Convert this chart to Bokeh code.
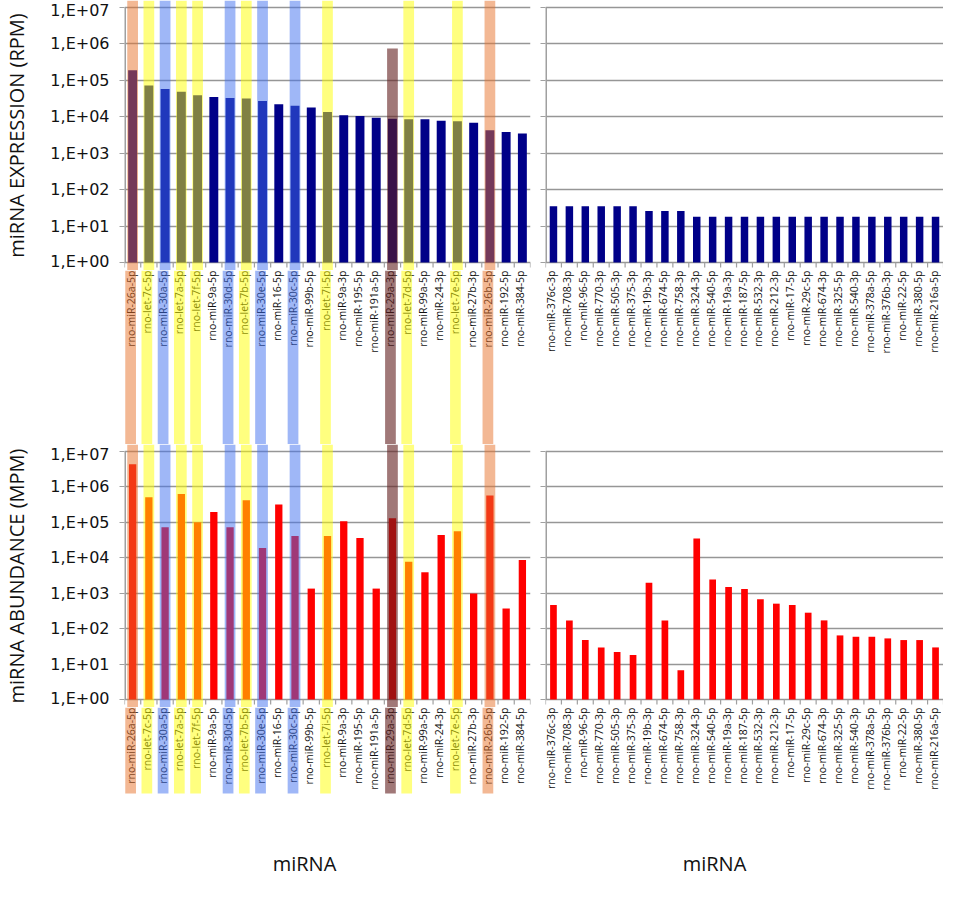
import math
from bokeh.plotting import figure
from bokeh.models import Range1d, FixedTicker
from bokeh.layouts import column, row
from bokeh.core.properties import value
from bokeh.embed import file_html
from bokeh.resources import INLINE

# ---------------- data ----------------
left_mirnas = ["rno-miR-26a-5p", "rno-let-7c-5p", "rno-miR-30a-5p", "rno-let-7a-5p",
               "rno-let-7f-5p", "rno-miR-9a-5p", "rno-miR-30d-5p", "rno-let-7b-5p",
               "rno-miR-30e-5p", "rno-miR-16-5p", "rno-miR-30c-5p", "rno-miR-99b-5p",
               "rno-let-7i-5p", "rno-miR-9a-3p", "rno-miR-195-5p", "rno-miR-191a-5p",
               "rno-miR-29a-3p", "rno-let-7d-5p", "rno-miR-99a-5p", "rno-miR-24-3p",
               "rno-let-7e-5p", "rno-miR-27b-3p", "rno-miR-26b-5p", "rno-miR-192-5p",
               "rno-miR-384-5p"]
left_rpm = [1.9e5, 7.2e4, 5.8e4, 4.9e4, 3.9e4, 3.5e4, 3.3e4, 3.2e4, 2.7e4, 2.2e4,
            2.0e4, 1.8e4, 1.35e4, 1.1e4, 1.05e4, 9.4e3, 8.8e3, 8.6e3, 8.6e3, 7.8e3,
            7.6e3, 6.9e3, 4.3e3, 3.8e3, 3.5e3]
left_mpm = [4.4e6, 5.1e5, 7.3e4, 6.3e5, 1.0e5, 1.95e5, 7.3e4, 4.2e5, 1.9e4, 3.2e5,
            4.1e4, 1.35e3, 4.1e4, 1.07e5, 3.6e4, 1.35e3, 1.3e5, 7.7e3, 3.9e3, 4.4e4,
            5.6e4, 9.8e2, 5.7e5, 3.7e2, 8.7e3]
# highlight family of each left-hand miRNA (None = not highlighted)
left_family = ["orange", "yellow", "blue", "yellow", "yellow", None, "blue", "yellow",
               "blue", None, "blue", None, "yellow", None, None, None, "brown", "yellow",
               None, None, "yellow", None, "orange", None, None]
band_top_rpm = {16: 7.5e5}

right_mirnas = ["rno-miR-376c-3p", "rno-miR-708-3p", "rno-miR-96-5p", "rno-miR-770-3p",
                "rno-miR-505-3p", "rno-miR-375-3p", "rno-miR-19b-3p", "rno-miR-674-5p",
                "rno-miR-758-3p", "rno-miR-324-3p", "rno-miR-540-5p", "rno-miR-19a-3p",
                "rno-miR-187-5p", "rno-miR-532-3p", "rno-miR-212-3p", "rno-miR-17-5p",
                "rno-miR-29c-5p", "rno-miR-674-3p", "rno-miR-325-5p", "rno-miR-540-3p",
                "rno-miR-378a-5p", "rno-miR-376b-3p", "rno-miR-22-5p", "rno-miR-380-5p",
                "rno-miR-216a-5p"]
right_rpm = [35, 35, 35, 35, 35, 35, 26, 26, 26, 18, 18, 18, 18, 18, 18, 18, 18, 18,
             18, 18, 18, 18, 18, 18, 18]
right_mpm = [465, 171, 47.6, 29.5, 21.8, 17.9, 1990, 171, 6.7, 34900, 2420, 1500, 1318,
             673, 507, 465, 282, 171, 64.4, 59, 59, 53, 47.6, 47.6, 29.5]

y_ticks = [1, 10, 100, 1000, 10000, 100000, 1000000, 10000000]
y_tick_labels = ["1,E+00", "1,E+01", "1,E+02", "1,E+03", "1,E+04", "1,E+05", "1,E+06", "1,E+07"]
x_title = "miRNA"

# ---------------- styles / geometry ----------------
FONT = "Open Sans"
BAND_STYLE = {
    "orange": ("#E8722A", 0.5),
    "yellow": ("#FFFF00", 0.5),
    "blue": ("#4070F0", 0.5),
    "brown": ("#611E1E", 0.6),
}
NAVY = "#000088"
RED = "#FF0000"
GRID = "#969696"
AXIS = "#a0a0a0"

FW_L, FW_R = 406, 398
ML_L, MR_L, ML_R, MR_R = 122, 5, 10, 0
DEC_TOP = 255 / 7.0      # px per decade, upper panels
DEC_BOT = 248 / 7.0      # px per decade, lower panels
HEAD = 7                 # px of frame above the 1E+07 line
FOOT = 8                 # px of frame under the 1E+00 line
STRIP_TOP = 174          # label strip under the upper panels
STRIP_BOT = 177          # label strip (and title) under the lower panels
BAND_BOT_PX = 86         # lower bands stop this far into their label strip
TITLE_PX = 156           # x title centre, px into the lower label strip


def style_frame(p):
    p.outline_line_color = None
    p.background_fill_color = "white"
    p.border_fill_color = "white"
    p.xgrid.visible = False


def bands(p, families, tops, bottom):
    l, r, t, b, cols, alphas = [], [], [], [], [], []
    for i, fam in enumerate(families):
        if fam is None:
            continue
        c, a = BAND_STYLE[fam]
        l.append(i - 0.33)
        r.append(i + 0.33)
        t.append(tops.get(i, None) if isinstance(tops, dict) else tops)
        b.append(bottom)
        cols.append(c)
        alphas.append(a)
    p.quad(left=l, right=r, top=t, bottom=b, fill_color=cols, fill_alpha=alphas,
           line_color=None)


def bars_fig(names, values, color, bar_w, fw, dec, ml, mr, families=None,
             band_tops=None, ytitle=None, ylabels=True):
    n = len(names)
    y0 = 10 ** (-FOOT / dec)
    y1 = 10 ** (7 + HEAD / dec)
    p = figure(frame_width=fw, frame_height=int(round(HEAD + 7 * dec + FOOT)),
               min_border_left=ml, min_border_right=mr,
               min_border_top=0, min_border_bottom=0,
               x_range=Range1d(-0.5, n - 0.5), y_range=Range1d(y0, y1),
               y_axis_type="log", output_backend="svg", toolbar_location=None,
               tools="")
    style_frame(p)
    xs = list(range(n))
    p.vbar(x=xs, top=values, bottom=1, width=bar_w, fill_color=color, line_color=None)

    # category tick marks between bars, under the 1E+00 line
    bounds = [i - 0.5 for i in range(n + 1)]
    tick_end = 10 ** (-5 / dec)
    p.segment(x0=bounds, x1=bounds, y0=[1] * len(bounds), y1=[tick_end] * len(bounds),
              line_color=AXIS, line_width=1.2)

    if families:
        tops = {i: y1 for i in range(n)}
        tops.update(band_tops or {})
        bands(p, families, tops, y0)

    # y axis line from 1E+00 to 1E+07
    p.segment(x0=[-0.5], x1=[-0.5], y0=[1], y1=[1e7], line_color=AXIS, line_width=3)

    p.xaxis.visible = False
    ya = p.yaxis[0]
    ya.ticker = FixedTicker(ticks=y_ticks)
    ya.axis_line_color = None
    ya.minor_tick_line_color = None
    ya.major_tick_in = 0
    ya.major_tick_out = 5
    ya.major_tick_line_color = AXIS
    if ylabels:
        ya.major_label_overrides = dict(zip(y_ticks, y_tick_labels))
        ya.major_label_text_font = "DejaVu Sans"
        ya.major_label_text_font_size = "16px"
        ya.major_label_text_color = "#111111"
        ya.major_label_standoff = 10
    else:
        ya.major_label_overrides = {t: "" for t in y_ticks}
        ya.major_label_text_font_size = "1px"
        ya.major_label_text_alpha = 0
        ya.major_label_standoff = 0
    if ytitle:
        ya.axis_label = ytitle
        ya.axis_label_text_font = FONT
        ya.axis_label_text_font_size = "20px"
        ya.axis_label_text_font_style = "normal"
        ya.axis_label_text_color = "#111111"
        ya.axis_label_standoff = 17
    p.ygrid.grid_line_color = GRID
    p.ygrid.grid_line_width = 1.5
    return p


def strip_fig(names, fw, sh, ml, mr, families=None, band_bottom=None,
              xtitle=None, xtitle_shift=0):
    n = len(names)
    p = figure(frame_width=fw, frame_height=sh,
               min_border_left=ml, min_border_right=mr,
               min_border_top=0, min_border_bottom=0,
               x_range=Range1d(-0.5, n - 0.5), y_range=Range1d(-sh, 0),
               output_backend="svg", toolbar_location=None, tools="")
    style_frame(p)
    p.ygrid.visible = False
    p.xaxis.visible = False
    p.yaxis.visible = False
    xs = list(range(n))
    p.text(x=xs, y=[0] * n, text=names, angle=math.pi / 2,
           text_align="right", text_baseline="middle",
           text_font=value(FONT), text_font_size="10.5px", text_color="#111111")
    if families:
        bands(p, families, 0, -(band_bottom if band_bottom is not None else sh))
    if xtitle:
        p.text(x=[(n - 1) / 2.0], y=[-TITLE_PX], text=[xtitle],
               x_offset=xtitle_shift, text_align="center", text_baseline="middle",
               text_font=value(FONT), text_font_size="20px", text_color="#111111")
    return p


tl = bars_fig(left_mirnas, left_rpm, NAVY, 0.55, FW_L, DEC_TOP, ML_L, MR_L,
              families=left_family, band_tops=band_top_rpm,
              ytitle="miRNA EXPRESSION (RPM)")
tr = bars_fig(right_mirnas, right_rpm, NAVY, 0.47, FW_R, DEC_TOP, ML_R, MR_R,
              ylabels=False)
tls = strip_fig(left_mirnas, FW_L, STRIP_TOP, ML_L, MR_L, families=left_family)
trs = strip_fig(right_mirnas, FW_R, STRIP_TOP, ML_R, MR_R)

bl = bars_fig(left_mirnas, left_mpm, RED, 0.45, FW_L, DEC_BOT, ML_L, MR_L,
              families=left_family, ytitle="miRNA ABUNDANCE (MPM)")
br = bars_fig(right_mirnas, right_mpm, RED, 0.42, FW_R, DEC_BOT, ML_R, MR_R,
              ylabels=False)
bls = strip_fig(left_mirnas, FW_L, STRIP_BOT, ML_L, MR_L, families=left_family,
                band_bottom=BAND_BOT_PX, xtitle=x_title, xtitle_shift=-21)
brs = strip_fig(right_mirnas, FW_R, STRIP_BOT, ML_R, MR_R,
                xtitle=x_title, xtitle_shift=-28)

layout = column(row(tl, tr), row(tls, trs), row(bl, br), row(bls, brs))

open("out.html", "w").write(file_html(layout, INLINE))
